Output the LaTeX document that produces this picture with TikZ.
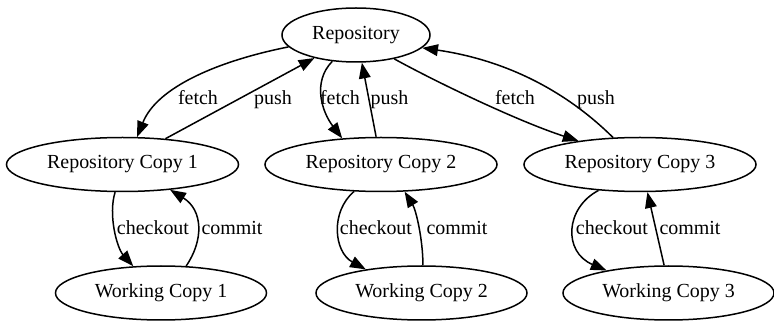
\documentclass[tikz,border=0pt]{standalone}
\usepackage{fontspec}
\setmainfont{Liberation Serif}
\usetikzlibrary{shapes.geometric,arrows.meta}
\begin{document}
\begin{tikzpicture}[x=0.66667pt, y=-0.66667pt, line width=1pt,
  font=\fontsize{13.3}{16}\selectfont,
  state/.style={ellipse, draw, inner sep=0pt, minimum height=36pt},
  repobox/.style={state, minimum width=98.7pt},
  copybox/.style={state, minimum width=154.7pt},
  workbox/.style={state, minimum width=140.7pt},
  edge/.style={-{Triangle[length=10.5pt,width=7.8pt]}},
  lbl/.style={inner sep=0pt, anchor=base}]

\useasboundingbox (0,0) rectangle (774,321);

% nodes
\node[repobox] (repo) at (356,35) {Repository};
\node[copybox] (rc1) at (122.5,164.5) {Repository Copy 1};
\node[copybox] (rc2) at (381,164.5) {Repository Copy 2};
\node[copybox] (rc3) at (640,164.5) {Repository Copy 3};
\node[workbox] (wc1) at (161,293) {Working Copy 1};
\node[workbox] (wc2) at (421.5,293) {Working Copy 2};
\node[workbox] (wc3) at (668.5,293) {Working Copy 3};

% fetch / push between the repository and its copies
\draw[edge] (repo.190) .. controls (218,61) and (157,87) .. (rc1.62);
\draw[edge] (rc1.31) -- (repo.209);
\draw[edge] (repo.228) .. controls (312,82) and (322,112) .. (rc2.146);
\draw[edge] (rc2.100) -- (repo.282);
\draw[edge] (repo.328) .. controls (440,84) and (520,122) .. (rc3.159);
\draw[edge] (rc3.135) .. controls (565,90) and (505,60) .. (repo.349);

% checkout / commit between each copy and its working copy
\draw[edge] (rc1.255) .. controls (108,215) and (117,248) .. (wc1.136);
\draw[edge] (wc1.47) .. controls (204,240) and (203,210) .. (rc1.332);
\draw[edge] (rc2.225) .. controls (330,212) and (334,252) .. (wc2.157);
\draw[edge] (wc2.87) .. controls (423,240) and (416,210) .. (rc2.311);
\draw[edge] (rc3.212) .. controls (565,208) and (563,252) .. (wc3.160);
\draw[edge] (wc3.99) -- (rc3.285);

% edge labels
\node[lbl] (f1) at (198,105) {fetch};
\node[lbl] (p1) at (273,105) {push};
\node[lbl] (f2) at (340,105) {fetch};
\node[lbl] (p2) at (389.5,105) {push};
\node[lbl] (f3) at (515,105) {fetch};
\node[lbl] (p3) at (596,105) {push};
\node[lbl] (co1) at (153,235) {checkout};
\node[lbl] (cm1) at (232,235) {commit};
\node[lbl] (co2) at (376,235) {checkout};
\node[lbl] (cm2) at (457,235) {commit};
\node[lbl] (co3) at (612,235) {checkout};
\node[lbl] (cm3) at (690,235) {commit};
\end{tikzpicture}
\end{document}
